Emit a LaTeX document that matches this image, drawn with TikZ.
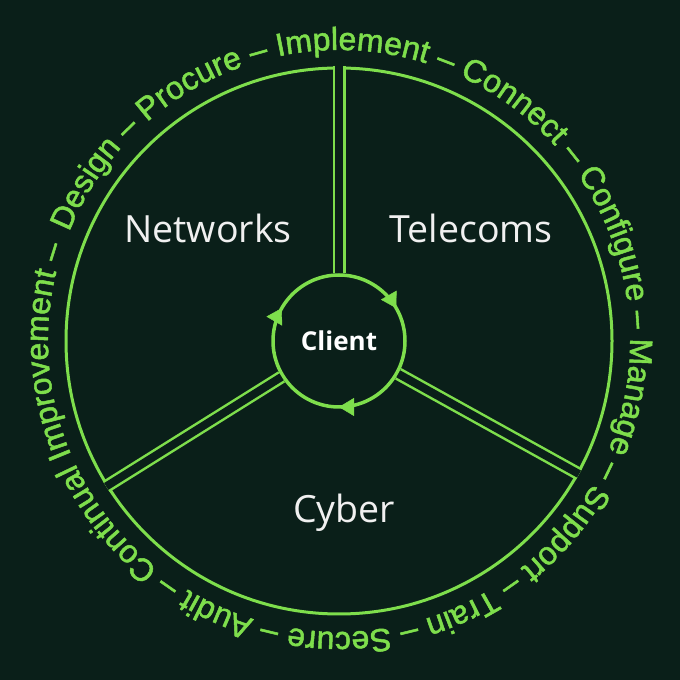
\documentclass[tikz,border=0pt]{standalone}
\usepackage{fontspec}
\setmainfont{Open Sans}
\newfontfamily\ringfont[FakeBold=1.6]{Liberation Sans}
\usetikzlibrary{decorations.text,decorations.markings,arrows.meta}
\definecolor{bgdark}{RGB}{10,31,25}
\definecolor{lime}{RGB}{126,222,76}
\definecolor{offwhite}{RGB}{240,240,240}
\begin{document}
\begin{tikzpicture}[x=1pt,y=1pt,
  sector/.style={text=offwhite,anchor=base,font=\fontsize{37.5}{37.5}\selectfont},
  spoke/.style={draw=lime,line width=2.5pt,double=bgdark,double distance=8pt},
  turn/.tip={Triangle[width=18pt,length=15pt]}]
\fill[bgdark] (0,0) rectangle (680,680);
\useasboundingbox (0,0) rectangle (680,680);
\coordinate (hub) at (339,339);
\node[draw=lime,line width=3pt,circle,minimum size=546pt,inner sep=0pt] (wheel) at (hub) {};
\node[draw=lime,line width=3.5pt,circle,minimum size=132pt,inner sep=0pt,text=white,
  font=\bfseries\fontsize{26}{26}\selectfont] (client) at (hub) {Client};
\draw[spoke] (client.90) -- (wheel.90);
\draw[spoke] (client.212) -- (wheel.212);
\draw[spoke] (client.-29) -- (wheel.-29);
% arrows going round the client
\path[lime,postaction={decorate},decoration={markings,
  mark=at position 0.083 with {\arrowreversed{turn}},
  mark=at position 0.417 with {\arrowreversed{turn}},
  mark=at position 0.75 with {\arrowreversed{turn}}}] (hub) circle[radius=66];
\node[sector] (networks) at (208,437) {Networks};
\node[sector] (telecoms) at (471,437) {Telecoms};
\node[sector] (cyber) at (344,157) {Cyber};
% text round the wheel
\path[decorate,decoration={text along path,text align=fit to path,text color=lime,
  text={|\ringfont\fontsize{32}{32}\selectfont|Design – Procure – Implement – Connect – Configure – Manage – Support – Train – Secure – Audit – Continual Improvement –}}]
  (hub) ++(158:291) arc[start angle=158,end angle=-199,radius=291];
\end{tikzpicture}
\end{document}
